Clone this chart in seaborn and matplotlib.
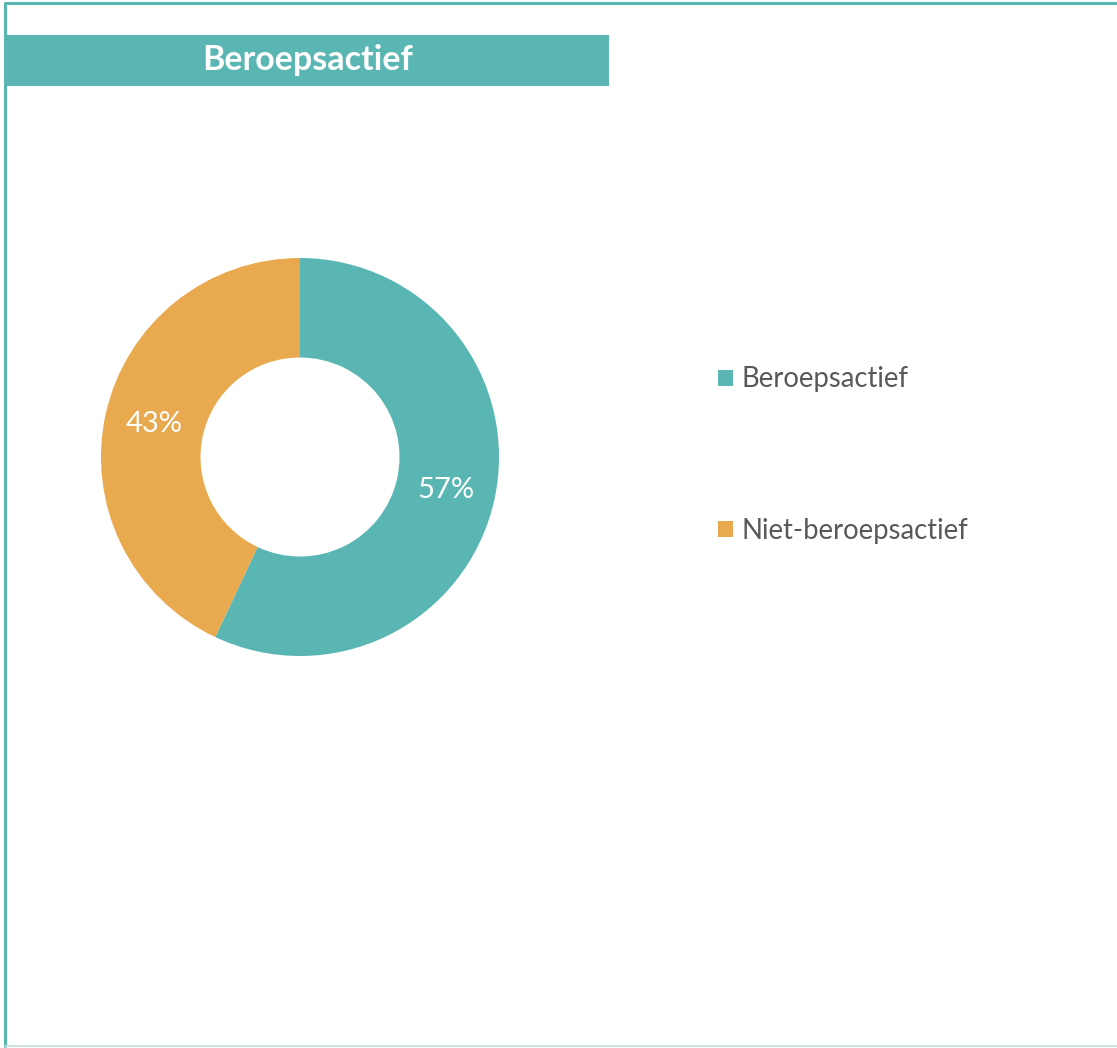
import matplotlib.pyplot as plt
import seaborn as sns
from matplotlib.lines import Line2D
from matplotlib.patches import Rectangle

categories = ['Beroepsactief', 'Niet-beroepsactief']
shares = [57, 43]
title = 'Beroepsactief'

sns.set_theme(style='white')
plt.rcParams['font.family'] = ['Lato', 'DejaVu Sans']
colors = sns.color_palette(['#5AB6B2', '#E8A94F'])
teal = '#5AB6B2'
grey = '#595959'

W, H = 1117, 1048
fig = plt.figure(figsize=(W / 100, H / 100), dpi=100)

# frame lines round the chart area
fig.add_artist(Line2D([5 / W, 1], [1 - 3 / H, 1 - 3 / H], color=teal, lw=2.2))
fig.add_artist(Line2D([5 / W, 5 / W], [2 / H, 1 - 3 / H], color=teal, lw=2.2))
fig.add_artist(Line2D([5 / W, 1], [2 / H, 2 / H], color='#BFDFDD', lw=1.2))

# title bar
fig.add_artist(Rectangle((6 / W, 1 - 86 / H), 603 / W, 51 / H,
                         transform=fig.transFigure, color=teal, lw=0))
fig.text(308 / W, 1 - 60 / H, title, color='white', fontsize=24.5,
         fontweight='bold', ha='center', va='center')

# donut
cx, cy, r = 300, 457, 199
ax = fig.add_axes([(cx - r) / W, (H - cy - r) / H, 2 * r / W, 2 * r / H])
wedges, texts, autotexts = ax.pie(
    shares, colors=colors, startangle=90, counterclock=False, radius=1,
    wedgeprops=dict(width=0.5, linewidth=0), autopct='%1.0f%%',
    pctdistance=0.75, textprops=dict(color='white', fontsize=21))
ax.set_xlim(-1, 1)
ax.set_ylim(-1, 1)
ax.set_aspect('equal')
ax.axis('off')

leg = fig.legend(wedges, categories, loc='center left',
                 bbox_to_anchor=(718 / W, 1 - 455 / H), frameon=False,
                 borderaxespad=0, borderpad=0,
                 fontsize=19.8, labelcolor=grey, handlelength=0.54,
                 handleheight=0.54, handletextpad=0.3, labelspacing=4.55)

fig.savefig('out.png', dpi=100, facecolor='white')
